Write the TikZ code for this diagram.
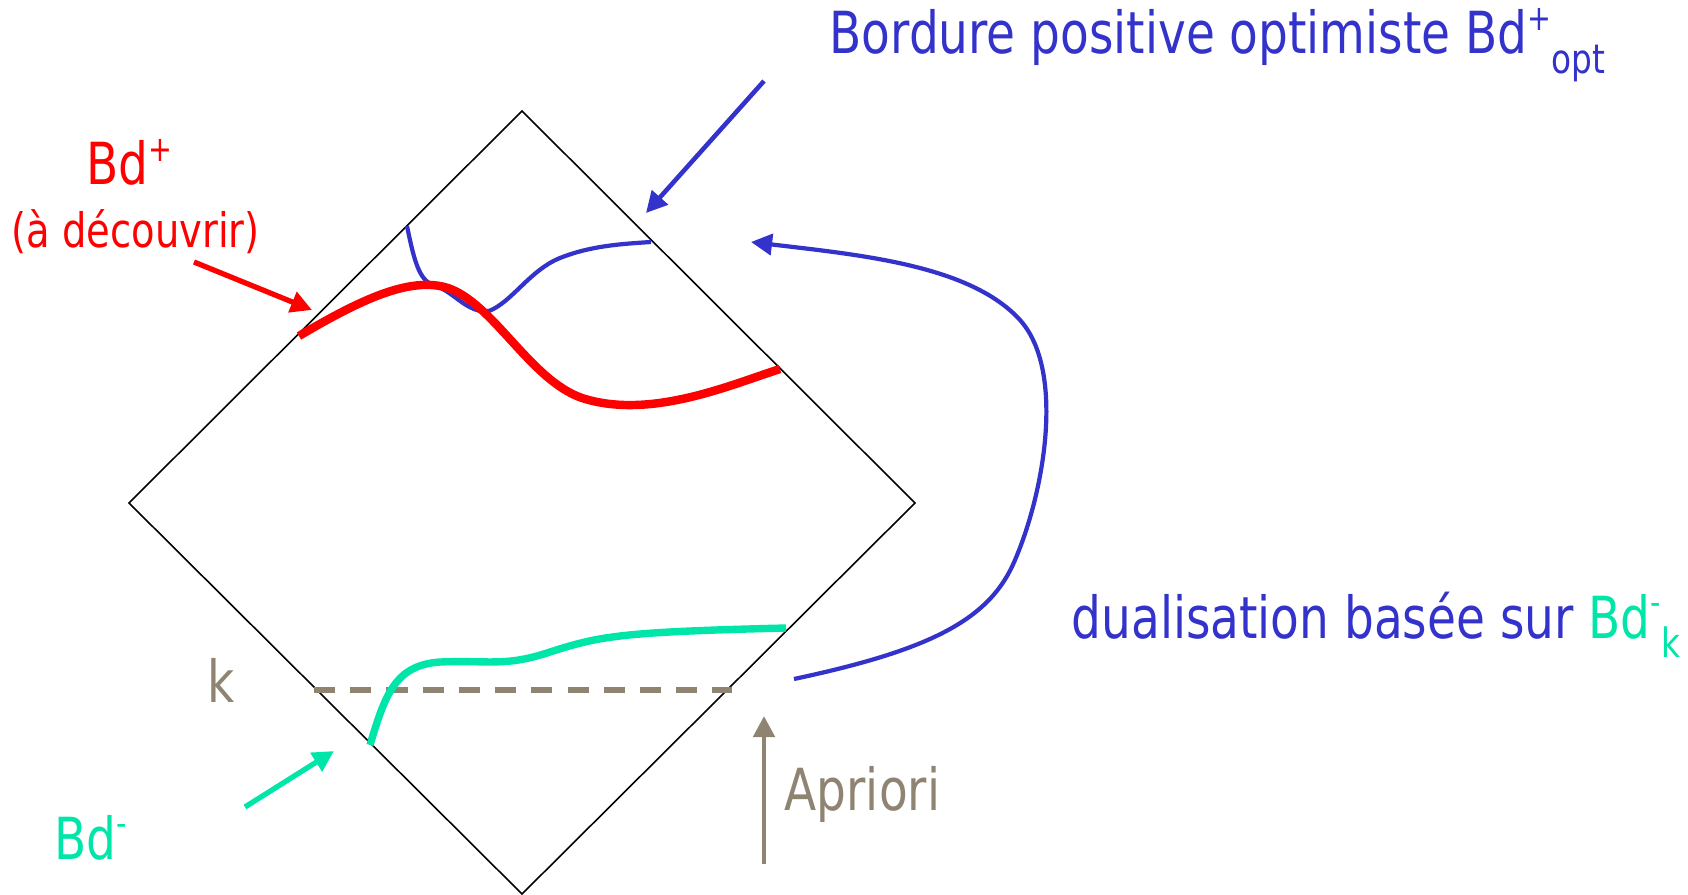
\documentclass[tikz,border=0pt]{standalone}
\usepackage{fontspec}
\setmainfont[FakeStretch=0.9]{DejaVu Sans Condensed}
\usetikzlibrary{arrows.meta}
\definecolor{cblue}{HTML}{3333CC}
\definecolor{cred}{HTML}{FF0000}
\definecolor{cgreen}{HTML}{00E6A8}
\definecolor{ctan}{HTML}{8F8372}
\newcommand\upidx[1]{\raisebox{0.75ex}{\fontsize{10}{10}\selectfont #1}}
\newcommand\lowidx[1]{\raisebox{-0.6ex}{\fontsize{11.5}{11}\selectfont #1}}
\begin{document}
\begin{tikzpicture}[x=0.01cm,y=-0.01cm,
  lbl/.style={inner sep=0pt,anchor=base west,font=\fontsize{16.5}{18}\selectfont},
  small/.style={inner sep=0pt,anchor=base west,font=\fontsize{13.5}{15}\selectfont},
  tip/.style={-{Triangle[length=6pt,width=6pt]}},
  frame/.style={draw=black,line width=0.45pt},
  thickcurve/.style={line width=2.4pt,line cap=butt},
  thincurve/.style={line width=1.2pt}]
\useasboundingbox (0,0) rectangle (1688,894);
% diamond
\coordinate (T) at (522,111);
\coordinate (L) at (129,503);
\coordinate (R) at (915,503);
\coordinate (B) at (522,894);
\draw[frame] (T) -- (R) -- (B) -- (L) -- cycle;
% labels
\node[lbl,text=cblue] (title) at (829,54) {Bordure positive optimiste Bd\upidx{+}\lowidx{opt}};
\node[lbl,text=cred] (bdp) at (86,185) {Bd\upidx{+}};
\node[small,text=cred] (dec) at (11,248) {(à découvrir)};
\node[lbl,text=cgreen] (bdm) at (54,859) {Bd\upidx{-}};
\node[lbl,text=ctan] (k) at (207,702) {k};
\node[lbl,text=ctan] (apr) at (784,810) {Apriori};
\node[lbl,text=cblue] (dual) at (1071,638) {dualisation basée sur \textcolor{cgreen}{Bd\upidx{-}\lowidx{k}}};
% arrow coordinates
\coordinate (ta1) at (764,81);  \coordinate (ta2) at (646,213);
\coordinate (ra1) at (194,262); \coordinate (ra2) at (312,310);
\coordinate (ga1) at (245,807); \coordinate (ga2) at (334,751);
\coordinate (aa1) at (764,864); \coordinate (aa2) at (764,716);
\coordinate (ka1) at (314,690); \coordinate (ka2) at (732,690);
\draw[cblue,line width=1.3pt,tip] (ta1) -- (ta2);
\draw[cred,line width=1.5pt,tip] (ra1) -- (ra2);
\draw[cgreen,line width=1.5pt,tip] (ga1) -- (ga2);
\draw[ctan,line width=1.4pt,tip] (aa1) -- (aa2);
\draw[ctan,line width=1.5pt,dash pattern=on 6pt off 4.3pt] (ka1) -- (ka2);
% blue upper curve
\draw[cblue,thincurve] (407,226) .. controls (415,265) and (420,282) .. (436,286)
  .. controls (454,292) and (468,314) .. (489,311)
  .. controls (512,302) and (530,270) .. (560,258)
  .. controls (590,246) and (620,244) .. (651,242);
% red curve
\draw[cred,thickcurve] (299,336) .. controls (360,300) and (410,276) .. (448,288)
  .. controls (494,304) and (530,380) .. (582,398)
  .. controls (650,420) and (730,385) .. (780,369);
% green curve
\draw[cgreen,line width=2.1pt] (370,745) .. controls (385,695) and (395,665) .. (440,662)
  .. controls (490,660) and (505,667) .. (550,652)
  .. controls (600,636) and (620,632) .. (786,628);
% big blue arc
\coordinate (ba1) at (794,679);
\coordinate (ba2) at (751,242);
\draw[cblue,thincurve,tip] (ba1) .. controls (930,650) and (990,620) .. (1015,560)
  .. controls (1045,490) and (1065,370) .. (1020,320)
  .. controls (970,265) and (860,255) .. (ba2);
\end{tikzpicture}
\end{document}
